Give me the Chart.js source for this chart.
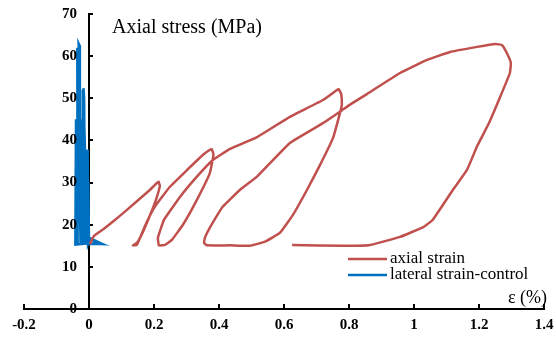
<!DOCTYPE html>
<html>
<head>
<meta charset="utf-8">
<script src="https://cdn.jsdelivr.net/npm/chart.js@4"></script>
<style>
  html, body { margin: 0; padding: 0; background: #fff; }
</style>
</head>
<body>
<canvas id="strain_chart" width="556" height="345"></canvas>
<script>
// axial strain (%) vs axial stress (MPa)
const axial_x = [0.003, 0.015, 0.049, 0.095, 0.142, 0.188, 0.209, 0.214, 0.218, 0.206, 0.188, 0.166, 0.148, 0.135, 0.147,
  0.157, 0.178, 0.203, 0.249, 0.302, 0.351, 0.372, 0.378, 0.383,
  0.372, 0.332, 0.289, 0.255, 0.234, 0.215,
  0.212, 0.231, 0.280, 0.332, 0.382, 0.434, 0.517, 0.618, 0.720, 0.760, 0.768, 0.776, 0.778,
  0.775, 0.751, 0.711, 0.671, 0.628, 0.588, 0.542, 0.495, 0.434, 0.363, 0.354,
  0.357, 0.372, 0.412, 0.465, 0.517, 0.618, 0.720, 0.772, 0.803, 0.855, 0.957, 1.040, 1.111, 1.194, 1.250, 1.271, 1.286, 1.298, 1.295,
  1.265, 1.230, 1.194, 1.163, 1.120, 1.058, 1.030, 0.957, 0.865, 0.782, 0.625];
const axial_y = [15.4, 17.3, 19.2, 22.1, 25.2, 28.3, 29.9, 30.2, 29.2, 25.9, 22.3, 18.3, 15.7, 15.1, 15.2,
  16.9, 20.7, 24.3, 29.0, 33.0, 36.6, 37.8, 37.9, 36.6,
  32.3, 25.9, 20.0, 16.4, 15.2, 15.1,
  16.9, 21.2, 26.6, 31.4, 35.4, 38.0, 40.8, 45.6, 49.6, 51.8, 52.2, 51.0, 48.5,
  47.3, 40.6, 34.2, 28.3, 22.4, 18.1, 16.0, 15.0, 15.1, 15.1, 15.7,
  17.0, 19.3, 24.3, 28.3, 31.4, 39.4, 44.1, 46.8, 48.5, 51.0, 56.0, 59.1, 61.0, 62.2, 62.9, 62.6, 60.7, 58.4, 56.0,
  50.3, 44.0, 38.6, 33.0, 28.3, 21.2, 19.5, 17.1, 15.2, 15.0, 15.2];

// lateral strain (%) vs axial stress (MPa)
const lateral_x = [0.000, -0.002, 0.000, 0.042, 0.003, -0.003,
  -0.006, -0.004, -0.002, -0.009, -0.010, -0.008, -0.005, -0.004,
  -0.015, -0.017, -0.015, -0.012, -0.019, -0.018, -0.024, -0.022,
  -0.030, -0.032, -0.029, -0.028, -0.026, -0.036, -0.035, -0.040, -0.042,
  0.000, 0.040, 0.000];
const lateral_y = [15.5, 30.2, 15.5, 15.4, 16.8, 15.5,
  37.8, 36.0, 15.3, 30.0, 37.5, 15.3, 30.0, 15.3,
  45.0, 52.4, 50.0, 15.3, 52.0, 15.3, 45.0, 15.3,
  58.0, 63.0, 62.5, 50.0, 15.3, 62.0, 15.3, 45.0, 15.3,
  15.6, 15.4, 16.6];

const x_ticks = [-0.2, 0, 0.2, 0.4, 0.6, 0.8, 1, 1.2, 1.4];
const y_ticks = [0, 10, 20, 30, 40, 50, 60, 70];
const series_labels = ['axial strain', 'lateral strain-control'];
const series_colors = ['#C0504D', '#0070C0'];

const to_points = (xs, ys) => xs.map((v, i) => ({x: v, y: ys[i]}));

const serif = '"Liberation Serif", "Times New Roman", serif';

const text_plugin = {
  id: 'texts',
  afterDraw(chart) {
    const ctx = chart.ctx;
    const area = chart.chartArea;
    const xs = chart.scales.x;
    const ys = chart.scales.y;
    ctx.save();
    ctx.fillStyle = '#000';
    ctx.textBaseline = 'middle';

    // y tick labels, left of the y axis that sits at x = 0
    ctx.font = 'bold 15px ' + serif;
    ctx.textAlign = 'right';
    ys.ticks.forEach(t => {
      ctx.fillText(String(t.value), xs.getPixelForValue(0) - 12, ys.getPixelForValue(t.value));
    });

    ctx.font = '20px ' + serif;
    ctx.textAlign = 'left';
    ctx.fillText('Axial stress (MPa)', 112, 28);
    ctx.textAlign = 'right';
    ctx.font = '18px ' + serif;
    ctx.fillText('\u03b5 (%)', area.right + 3, 298);

    // legend
    ctx.textAlign = 'left';
    ctx.font = '17px ' + serif;
    chart.data.datasets.forEach((ds, i) => {
      const ly = 259 + i * 16;
      ctx.strokeStyle = ds.borderColor;
      ctx.lineWidth = 2.5;
      ctx.beginPath();
      ctx.moveTo(348, ly);
      ctx.lineTo(387, ly);
      ctx.stroke();
      ctx.fillText(ds.label, 390, ly);
    });
    ctx.restore();
  }
};

const tick_font = {family: serif, size: 15, weight: 'bold'};

const strain_chart = new Chart(document.getElementById('strain_chart'), {
  type: 'scatter',
  data: {
    datasets: [{
      label: series_labels[0],
      data: to_points(axial_x, axial_y),
      showLine: true,
      borderColor: series_colors[0],
      borderWidth: 2.5,
      pointRadius: 0,
      tension: 0.1
    }, {
      label: series_labels[1],
      data: to_points(lateral_x, lateral_y),
      showLine: true,
      borderColor: series_colors[1],
      borderWidth: 2.5,
      pointRadius: 0,
      tension: 0
    }]
  },
  options: {
    responsive: false,
    animation: false,
    layout: {padding: {left: 24, right: 12, top: 14, bottom: 0}},
    plugins: {
      legend: {display: false},
      tooltip: {enabled: false}
    },
    scales: {
      x: {
        type: 'linear',
        position: 'bottom',
        min: -0.2,
        max: 1.4,
        afterBuildTicks: s => { s.ticks = x_ticks.map(v => ({value: v})); },
        afterFit: s => { s.height = 36; s.paddingLeft = 0; s.paddingRight = 0; },
        border: {display: true, color: '#000', width: 2},
        grid: {drawOnChartArea: false, drawTicks: true, tickLength: -5, color: '#000', lineWidth: 2},
        ticks: {
          color: '#000',
          font: tick_font,
          padding: 12,
          maxRotation: 0,
          callback: v => String(Math.round(v * 10) / 10)
        }
      },
      y: {
        type: 'linear',
        position: {x: 0},
        min: 0,
        max: 70,
        afterBuildTicks: s => { s.ticks = y_ticks.map(v => ({value: v})); },
        afterFit: s => { s.width = 0; },
        border: {display: true, color: '#000', width: 2},
        grid: {drawOnChartArea: false, drawTicks: true, tickLength: -5, color: '#000', lineWidth: 2},
        ticks: {display: false}
      }
    }
  },
  plugins: [text_plugin]
});
</script>
</body>
</html>
